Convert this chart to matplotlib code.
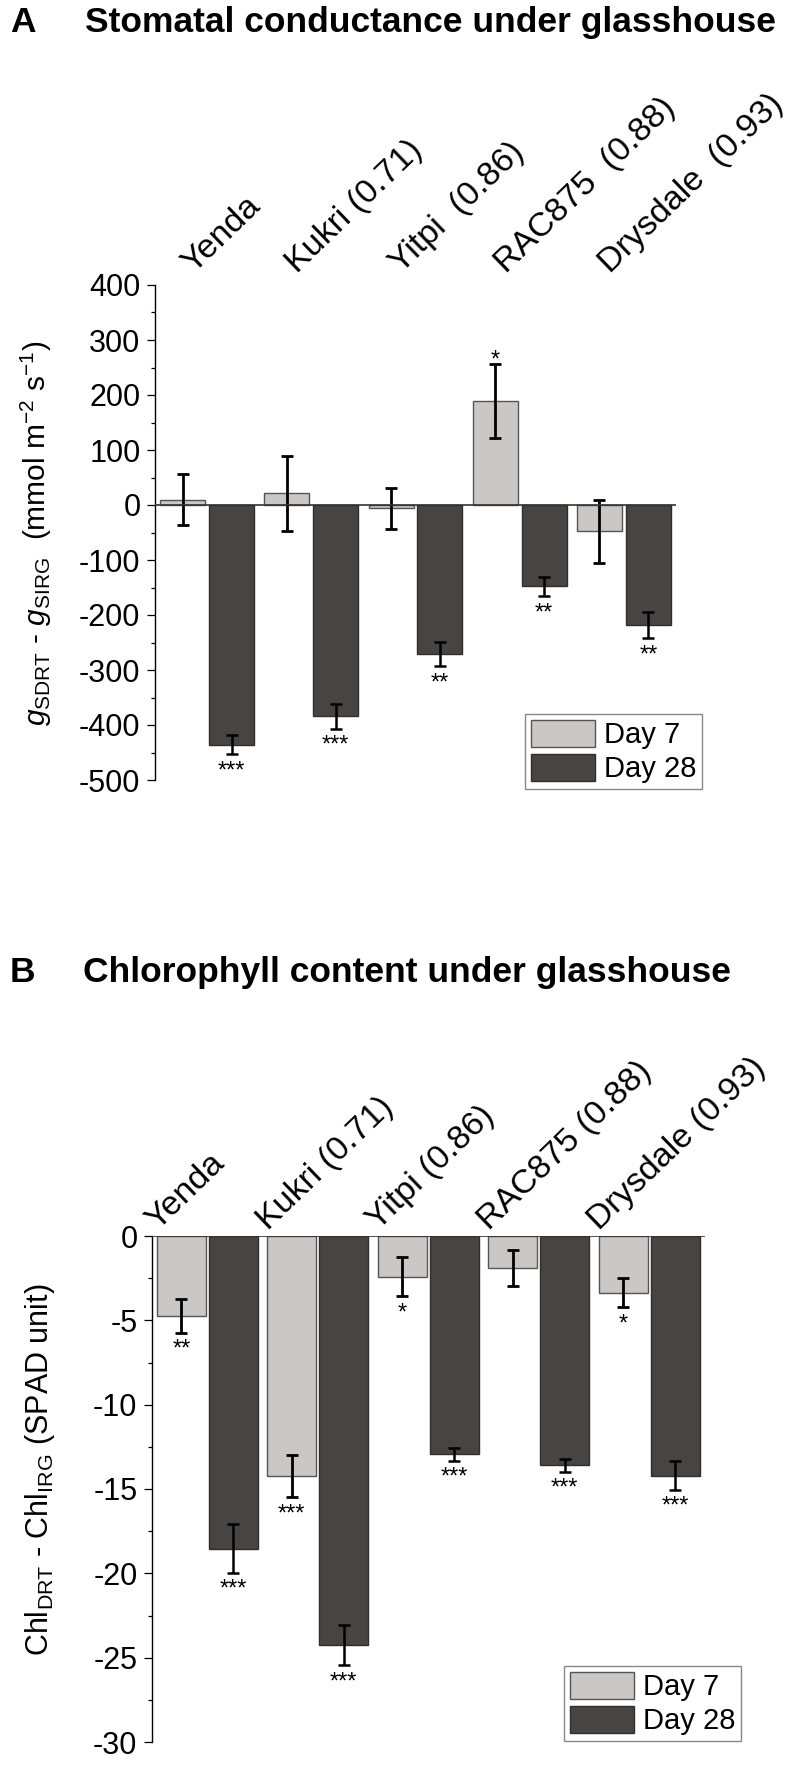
import numpy as np
import matplotlib
matplotlib.use("Agg")
import matplotlib.pyplot as plt

plt.rcParams['font.family'] = ['Liberation Sans', 'DejaVu Sans']
plt.rcParams['mathtext.fontset'] = 'custom'
plt.rcParams['mathtext.rm'] = 'Liberation Sans'
plt.rcParams['mathtext.it'] = 'Liberation Sans:italic'

# panel A - stomatal conductance difference
labels_a = ['Yenda', 'Kukri (0.71)', 'Yitpi  (0.86)', 'RAC875  (0.88)', 'Drysdale  (0.93)']
gs_day7 = [10, 21, -6, 189, -48]
gs_day7_err = [47, 68, 37, 68, 57]
gs_day28 = [-436, -384, -271, -148, -218]
gs_day28_err = [17, 23, 22, 18, 24]
stars_a7 = ['', '', '', '*', '']
stars_a28 = ['***', '***', '**', '**', '**']

# panel B - chlorophyll difference
labels_b = ['Yenda', 'Kukri (0.71)', 'Yitpi (0.86)', 'RAC875 (0.88)', 'Drysdale (0.93)']
chl_day7 = [-4.75, -14.22, -2.41, -1.92, -3.36]
chl_day7_err = [1.0, 1.26, 1.16, 1.07, 0.87]
chl_day28 = [-18.53, -24.26, -12.95, -13.6, -14.2]
chl_day28_err = [1.43, 1.19, 0.37, 0.39, 0.85]
stars_b7 = ['**', '***', '*', '', '*']
stars_b28 = ['***', '***', '***', '***', '***']

light = '#cbc7c5'
dark = '#474441'
W, H = 798, 1784

fig = plt.figure(figsize=(W / 100, H / 100), dpi=100)


def panel(rect, labels, v7, e7, v28, e28, s7, s28, width, ylim, major, minor,
          lab_off, leg_anchor):
    ax = fig.add_axes(rect)
    x = np.arange(len(labels))
    off = 0.235
    ax.bar(x - off, v7, width, color=light, edgecolor='#555555', linewidth=1, label='Day 7', zorder=2)
    ax.bar(x + off, v28, width, color=dark, edgecolor='#2e2e2e', linewidth=1, label='Day 28', zorder=2)
    ax.errorbar(x - off, v7, yerr=e7, fmt='none', ecolor='black', elinewidth=2, capsize=4.5, capthick=2, zorder=3)
    ax.errorbar(x + off, v28, yerr=e28, fmt='none', ecolor='black', elinewidth=1.8, capsize=4.5, capthick=1.8, zorder=3)
    ax.axhline(0, color='#333333', lw=1.2, zorder=4)
    ax.set_xlim(-0.5, len(labels) - 0.5)
    ax.set_ylim(*ylim)
    ax.set_yticks(np.arange(ylim[0], ylim[1] + major / 2, major))
    ax.set_yticks(np.arange(ylim[0], ylim[1] + minor / 2, minor), minor=True)
    ax.yaxis.set_major_formatter(matplotlib.ticker.FuncFormatter(lambda v, p: '%d' % v))
    ax.set_xticks([])
    for s in ['top', 'right', 'bottom']:
        ax.spines[s].set_visible(False)
    ax.spines['left'].set_linewidth(1)
    ax.tick_params(axis='y', which='major', length=5.5, width=0.9, labelsize=22, pad=5)
    ax.tick_params(axis='y', which='minor', length=2.8, width=0.9)
    for i, lab in enumerate(labels):
        ax.annotate(lab, xy=(i, 1), xycoords=('data', 'axes fraction'), xytext=lab_off,
                    textcoords='offset pixels', rotation=44, rotation_mode='anchor',
                    ha='left', va='baseline', fontsize=24.5)
    for xs, vals, errs, stars in [(x - off, v7, e7, s7), (x + off, v28, e28, s28)]:
        for xi, v, e, st in zip(xs, vals, errs, stars):
            if not st:
                continue
            if v > 0:
                ax.annotate(st, xy=(xi, v + e), xytext=(0, -3), textcoords='offset pixels',
                            ha='center', va='baseline', fontsize=17)
            else:
                ax.annotate(st, xy=(xi, v - e), xytext=(0, -6), textcoords='offset pixels',
                            ha='center', va='top', fontsize=17)
    leg = ax.legend(loc='upper right', bbox_to_anchor=leg_anchor, bbox_transform=fig.transFigure,
                    fontsize=21, fancybox=False, edgecolor='#888888', framealpha=1,
                    handlelength=2.2, handleheight=1.05, labelspacing=0.15, borderpad=0.2,
                    handletextpad=0.3, borderaxespad=0)
    leg.get_frame().set_linewidth(1)
    return ax


panel([155 / W, 1 - 780 / H, 521 / W, 495 / H], labels_a, gs_day7, gs_day7_err,
      gs_day28, gs_day28_err, stars_a7, stars_a28, 0.432, (-500, 400), 100, 50,
      (-14, 11), (702 / W, 1 - 714 / H))
panel([152 / W, 1 - 1742 / H, 552.5 / W, 506 / H], labels_b, chl_day7, chl_day7_err,
      chl_day28, chl_day28_err, stars_b7, stars_b28, 0.443, (-30, 0), 5, 2.5,
      (-50, 5), (741 / W, 1 - 1666 / H))

fig.text(10 / W, 1 - 32 / H, 'A', fontsize=25.5, fontweight='bold', va='baseline')
fig.text(85 / W, 1 - 32 / H, 'Stomatal conductance under glasshouse', fontsize=25.5,
         fontweight='bold', va='baseline')
fig.text(10 / W, 1 - 982 / H, 'B', fontsize=25.5, fontweight='bold', va='baseline')
fig.text(83 / W, 1 - 982 / H, 'Chlorophyll content under glasshouse', fontsize=25.5,
         fontweight='bold', va='baseline')

fig.text(36 / W, 1 - 533 / H,
         r'$\mathit{g}_{\mathrm{SDRT}}$ - $\mathit{g}_{\mathrm{SIRG}}$  (mmol m$^{-2}$ s$^{-1}$)',
         rotation=90, ha='center', va='center', fontsize=21.5)
fig.text(40 / W, 1 - 1470 / H, r'Chl$_{\mathrm{DRT}}$ - Chl$_{\mathrm{IRG}}$ (SPAD unit)',
         rotation=90, ha='center', va='center', fontsize=22)

fig.savefig('out.png', dpi=100)
